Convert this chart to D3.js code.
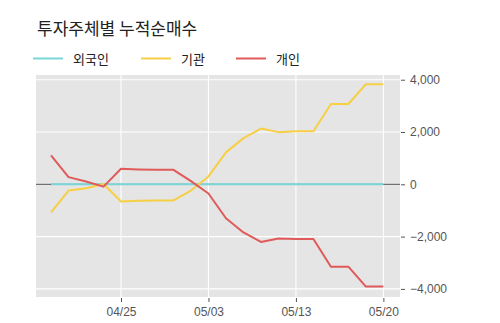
<!DOCTYPE html>
<html>
<head>
<meta charset="utf-8">
<script src="https://cdn.jsdelivr.net/npm/d3@7"></script>
<style>
  body { margin: 0; background: #fff; }
  svg { display: block; font-family: "Noto Sans CJK KR", "Noto Sans", sans-serif; }
</style>
</head>
<body>
<div id="chart"></div>
<script>
const WIDTH = 500;
const HEIGHT = 323;

// trading days, 2019
const dates = ['04/19', '04/22', '04/23', '04/24', '04/25', '04/26', '04/29', '04/30', '05/02', '05/03',
               '05/07', '05/08', '05/09', '05/10', '05/13', '05/14', '05/15', '05/16', '05/17', '05/20'];
const tickDates = ['04/25', '05/03', '05/13', '05/20'];
const yTicks = [-4000, -2000, 0, 2000, 4000];

const foreign = [0, 2, 3, 4, 3, 2, 2, 3, 4, 5, 4, 3, 3, 4, 5, 5, 4, 4, 5, 5];
const institution = [-1070, -240, -150, 10, -655, -630, -620, -618, -240, 300,
                     1220, 1765, 2130, 1995, 2030, 2030, 3070, 3070, 3825, 3825];
const individual = [1105, 275, 105, -90, 595, 570, 555, 553, 120, -350,
                    -1300, -1840, -2205, -2070, -2090, -2090, -3150, -3150, -3910, -3910];

const series = [
  { name: '외국인', values: foreign, color: '#7ad6d6' },
  { name: '기관', values: institution, color: '#f7cf45' },
  { name: '개인', values: individual, color: '#e05a5a' }
];

const panel = { left: 36, right: 400, top: 75, bottom: 297 };

const svg = d3.select('#chart')
              .append('svg')
              .attr('width', WIDTH)
              .attr('height', HEIGHT);

// x is the trading-day index, so weekends and holidays take no room
const xScale = d3.scaleLinear()
                 .domain([-0.86, dates.length - 1 + 0.95])
                 .range([panel.left, panel.right]);
const yScale = d3.scaleLinear()
                 .domain([-4310, 4180])
                 .range([panel.bottom, panel.top]);

// panel background
svg.append('rect')
   .attr('x', panel.left)
   .attr('y', panel.top)
   .attr('width', panel.right - panel.left)
   .attr('height', panel.bottom - panel.top)
   .attr('fill', '#e5e5e5');

// grid lines
svg.append('g')
   .selectAll('line')
   .data(yTicks)
   .enter()
   .append('line')
   .attr('x1', panel.left)
   .attr('x2', panel.right)
   .attr('y1', d => yScale(d))
   .attr('y2', d => yScale(d))
   .attr('stroke', '#fff')
   .attr('stroke-width', 1.1);

svg.append('g')
   .selectAll('line')
   .data(tickDates)
   .enter()
   .append('line')
   .attr('x1', d => xScale(dates.indexOf(d)))
   .attr('x2', d => xScale(dates.indexOf(d)))
   .attr('y1', panel.top)
   .attr('y2', panel.bottom)
   .attr('stroke', '#fff')
   .attr('stroke-width', 1.1);

// zero line
svg.append('line')
   .attr('x1', panel.left)
   .attr('x2', panel.right)
   .attr('y1', yScale(0))
   .attr('y2', yScale(0))
   .attr('stroke', '#707070')
   .attr('stroke-width', 1.2);

// series lines
const line = d3.line()
               .x((d, i) => xScale(i))
               .y(d => yScale(d));

svg.append('g')
   .selectAll('path')
   .data(series)
   .enter()
   .append('path')
   .attr('d', d => line(d.values))
   .attr('fill', 'none')
   .attr('stroke', d => d.color)
   .attr('stroke-width', 2)
   .attr('stroke-linejoin', 'round');

// x axis
const xAxis = d3.axisBottom(xScale)
                .tickValues(tickDates.map(d => dates.indexOf(d)))
                .tickFormat(i => dates[i])
                .tickSize(4)
                .tickPadding(5);
const gx = svg.append('g')
              .attr('transform', 'translate(0, ' + (panel.bottom + 1) + ')')
              .call(xAxis);
gx.select('.domain').remove();
gx.selectAll('line').attr('stroke', '#555');
gx.selectAll('text').attr('fill', '#555').style('font-size', '12px');

// y axis on the right
const yAxis = d3.axisRight(yScale)
                .tickValues(yTicks)
                .tickFormat(d3.format(','))
                .tickSize(4)
                .tickPadding(5);
const gy = svg.append('g')
              .attr('transform', 'translate(' + (panel.right + 1) + ', 0)')
              .call(yAxis);
gy.select('.domain').remove();
gy.selectAll('line').attr('stroke', '#555');
gy.selectAll('text').attr('fill', '#555').style('font-size', '12px');

// title
svg.append('text')
   .attr('x', 37)
   .attr('y', 35)
   .attr('fill', '#222')
   .style('font-size', '17px')
   .text('투자주체별 누적순매수');

// legend
const legendX = [33, 141, 236];
const legend = svg.append('g')
                  .selectAll('g')
                  .data(series)
                  .enter()
                  .append('g')
                  .attr('transform', (d, i) => 'translate(' + legendX[i] + ', 58.5)');
legend.append('line')
      .attr('x1', 0)
      .attr('x2', 30)
      .attr('stroke', d => d.color)
      .attr('stroke-width', 2);
legend.append('text')
      .attr('x', 40)
      .attr('y', 5)
      .attr('fill', '#222')
      .style('font-size', '13px')
      .text(d => d.name);
</script>
</body>
</html>
